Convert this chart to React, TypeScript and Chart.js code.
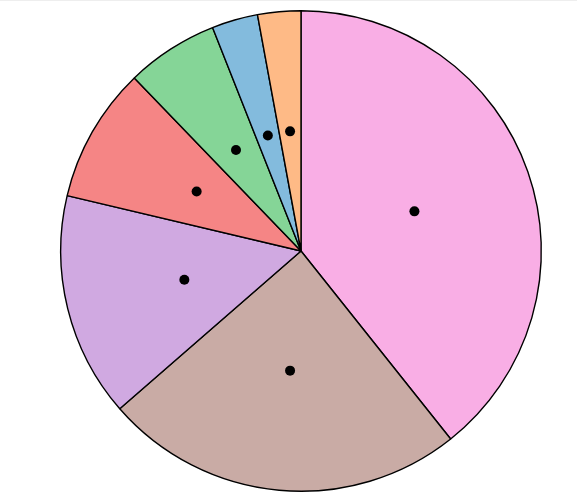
import React, { useEffect, useRef } from "react";
import { Chart, registerables } from "chart.js";

Chart.register(...registerables);

const categories = ["A", "B", "C", "D", "E", "F", "G"];
const values = [39.3, 24.3, 15.1, 9.1, 6.2, 3.1, 2.9];
const colors = ["#f9aee5", "#c9aba5", "#d0a9e1", "#f58585", "#85d597", "#83bbdd", "#feba86"];

const dotPlugin = {
  id: "dots",
  afterDatasetsDraw(chart: any) {
    const ctx = chart.ctx;
    const meta = chart.getDatasetMeta(0);
    ctx.save();
    ctx.fillStyle = "#000";
    meta.data.forEach((arc: any) => {
      const p = arc.tooltipPosition();
      ctx.beginPath();
      ctx.arc(p.x, p.y, 5, 0, Math.PI * 2);
      ctx.fill();
    });
    ctx.restore();
  },
};

export default function App() {
  const ref = useRef<HTMLCanvasElement>(null);
  useEffect(() => {
    if (!ref.current) return;
    const chart = new Chart(ref.current, {
      type: "pie",
      data: {
        labels: categories,
        datasets: [
          {
            data: values,
            backgroundColor: colors,
            borderColor: "#000",
            borderWidth: 1.4,
          },
        ],
      },
      options: {
        animation: false,
        responsive: false,
        layout: { padding: { left: 60, right: 35, top: 10, bottom: 9 } },
        plugins: { legend: { display: false }, tooltip: { enabled: false } },
      },
      plugins: [dotPlugin],
    });
    return () => chart.destroy();
  }, []);
  return (
    <div style={{ position: "absolute", left: 0, top: 0, width: 577, height: 501, background: "#fff" }}>
      <canvas ref={ref} width={577} height={501} style={{ display: "block" }} />
      <div style={{ position: "absolute", left: 0, top: 0, width: 577, height: 1, background: "#eeeeee" }} />
    </div>
  );
}
